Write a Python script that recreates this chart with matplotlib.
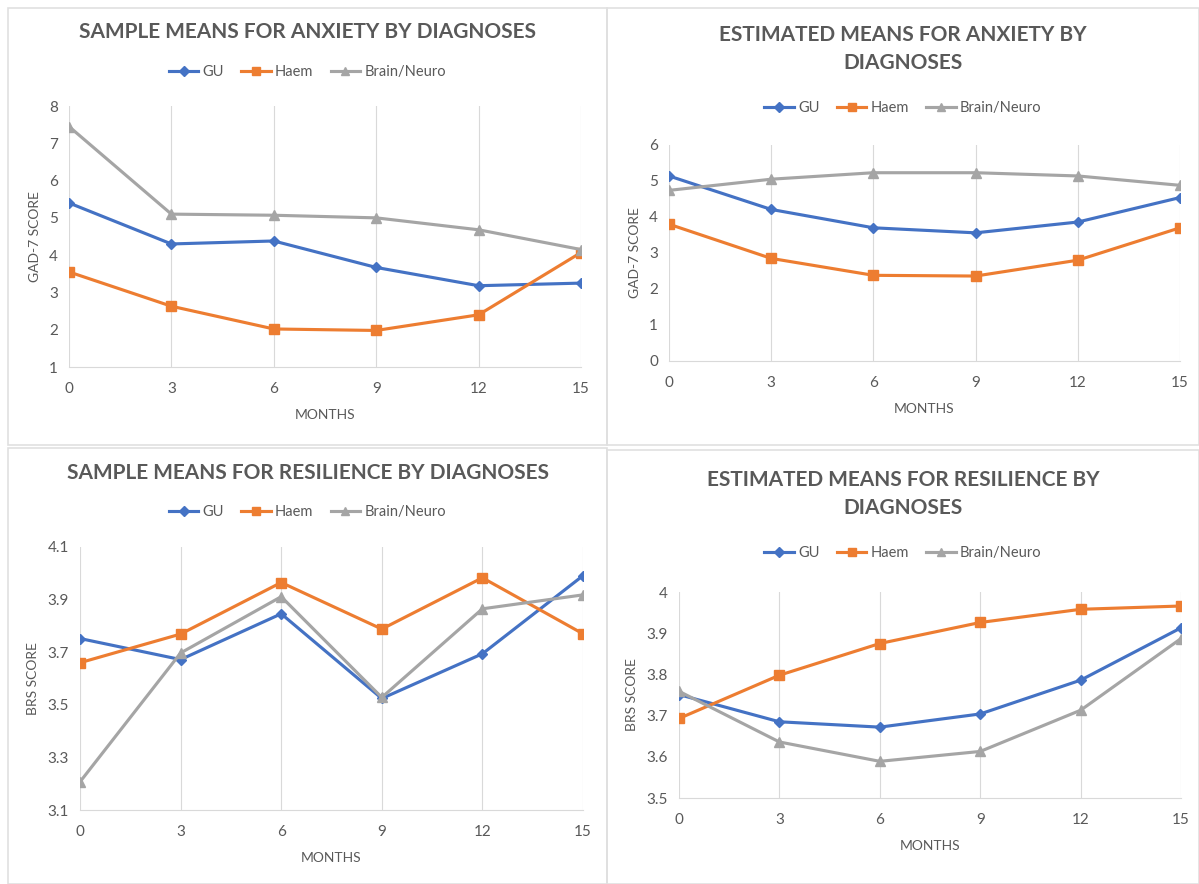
import matplotlib
matplotlib.use("Agg")
from matplotlib import pyplot as plt
from matplotlib.patches import Rectangle

plt.rcParams['font.family'] = ['Lato', 'DejaVu Sans']

months = [0, 3, 6, 9, 12, 15]
series_names = ["GU", "Haem", "Brain/Neuro"]

# anxiety, sample means (GAD-7)
anx_sample_gu = [5.40, 4.30, 4.38, 3.67, 3.18, 3.25]
anx_sample_haem = [3.55, 2.63, 2.02, 1.98, 2.40, 4.07]
anx_sample_brain = [7.45, 5.10, 5.07, 5.00, 4.68, 4.15]

# anxiety, estimated means (GAD-7)
anx_est_gu = [5.14, 4.21, 3.70, 3.56, 3.86, 4.54]
anx_est_haem = [3.80, 2.85, 2.38, 2.36, 2.80, 3.70]
anx_est_brain = [4.74, 5.05, 5.23, 5.23, 5.14, 4.88]

# resilience, sample means (BRS)
res_sample_gu = [3.752, 3.672, 3.846, 3.524, 3.694, 3.991]
res_sample_haem = [3.660, 3.769, 3.965, 3.788, 3.983, 3.770]
res_sample_brain = [3.207, 3.697, 3.911, 3.528, 3.865, 3.918]

# resilience, estimated means (BRS)
res_est_gu = [3.751, 3.685, 3.672, 3.704, 3.786, 3.913]
res_est_haem = [3.693, 3.798, 3.875, 3.926, 3.958, 3.966]
res_est_brain = [3.759, 3.636, 3.589, 3.613, 3.713, 3.887]

colors = ["#4472C4", "#ED7D31", "#A5A5A5"]
markers = ["D", "s", "^"]
msizes = [5.5, 6.5, 6.5]
text_col = "#595959"

W, H = 1199, 884
fig = plt.figure(figsize=(W / 100, H / 100), dpi=100)


def box(x0, y0, x1, y1):
    # pixel box -> figure fraction rect
    return [x0 / W, 1 - y1 / H, (x1 - x0) / W, (y1 - y0) / H]


def panel(ax_px, border_px, title, title_y, legend_y, ylabel, data, ylim, yticks, ytick_labels):
    bx0, by0, bx1, by1 = border_px
    fig.patches.append(Rectangle((bx0 / W, 1 - by1 / H), (bx1 - bx0) / W, (by1 - by0) / H,
                                 transform=fig.transFigure, fill=False,
                                 edgecolor="#E0E0E0", linewidth=1.2))
    ax = fig.add_axes(box(*ax_px))
    for vals, name, c, m, ms in zip(data, series_names, colors, markers, msizes):
        ax.plot(months, vals, color=c, marker=m, markersize=ms, linewidth=2.25, label=name)
    ax.set_xlim(0, 15)
    ax.set_ylim(*ylim)
    ax.set_xticks(months)
    ax.set_yticks(yticks)
    ax.set_yticklabels(ytick_labels)
    ax.grid(axis="x", color="#D9D9D9", linewidth=0.8)
    ax.set_axisbelow(True)
    for s in ["top", "right", "left"]:
        ax.spines[s].set_visible(False)
    ax.spines["bottom"].set_color("#D9D9D9")
    ax.tick_params(axis="x", length=0, labelsize=11, labelcolor=text_col, pad=11)
    ax.tick_params(axis="y", length=0, labelsize=11, labelcolor=text_col, pad=8)
    ax.set_xlabel("MONTHS", fontsize=10, color=text_col, labelpad=9)
    ax.set_ylabel(ylabel, fontsize=10, color=text_col, labelpad=6)
    cx = (bx0 + bx1) / 2 / W
    fig.text(cx, 1 - title_y / H, title, ha="center", va="center", fontsize=15,
             fontweight="bold", color=text_col, linespacing=1.55)
    ax.legend(loc="center", bbox_to_anchor=(cx, 1 - legend_y / H), bbox_transform=fig.transFigure,
              ncol=3, frameon=False, fontsize=10.5, labelcolor=text_col, markerscale=0.85,
              handlelength=2.0, handletextpad=0.3, columnspacing=1.2)
    return ax


panel((69, 106, 581, 367), (8, 8, 607, 445), "SAMPLE MEANS FOR ANXIETY BY DIAGNOSES", 32, 72,
      "GAD-7 SCORE", [anx_sample_gu, anx_sample_haem, anx_sample_brain],
      (1, 8), [1, 2, 3, 4, 5, 6, 7, 8], ["1", "2", "3", "4", "5", "6", "7", "8"])

panel((669, 145, 1180, 361), (607, 8, 1199, 445), "ESTIMATED MEANS FOR ANXIETY BY\nDIAGNOSES", 49, 108,
      "GAD-7 SCORE", [anx_est_gu, anx_est_haem, anx_est_brain],
      (0, 6), [0, 1, 2, 3, 4, 5, 6], ["0", "1", "2", "3", "4", "5", "6"])

panel((80, 547, 583, 810), (8, 448, 607, 884), "SAMPLE MEANS FOR RESILIENCE BY DIAGNOSES", 473, 512,
      "BRS SCORE", [res_sample_gu, res_sample_haem, res_sample_brain],
      (3.1, 4.1), [3.1, 3.3, 3.5, 3.7, 3.9, 4.1], ["3.1", "3.3", "3.5", "3.7", "3.9", "4.1"])

panel((679, 592, 1181, 798), (607, 450, 1199, 884), "ESTIMATED MEANS FOR RESILIENCE BY\nDIAGNOSES", 494, 553,
      "BRS SCORE", [res_est_gu, res_est_haem, res_est_brain],
      (3.5, 4.0), [3.5, 3.6, 3.7, 3.8, 3.9, 4.0], ["3.5", "3.6", "3.7", "3.8", "3.9", "4"])

fig.savefig("out.png", dpi=100)
